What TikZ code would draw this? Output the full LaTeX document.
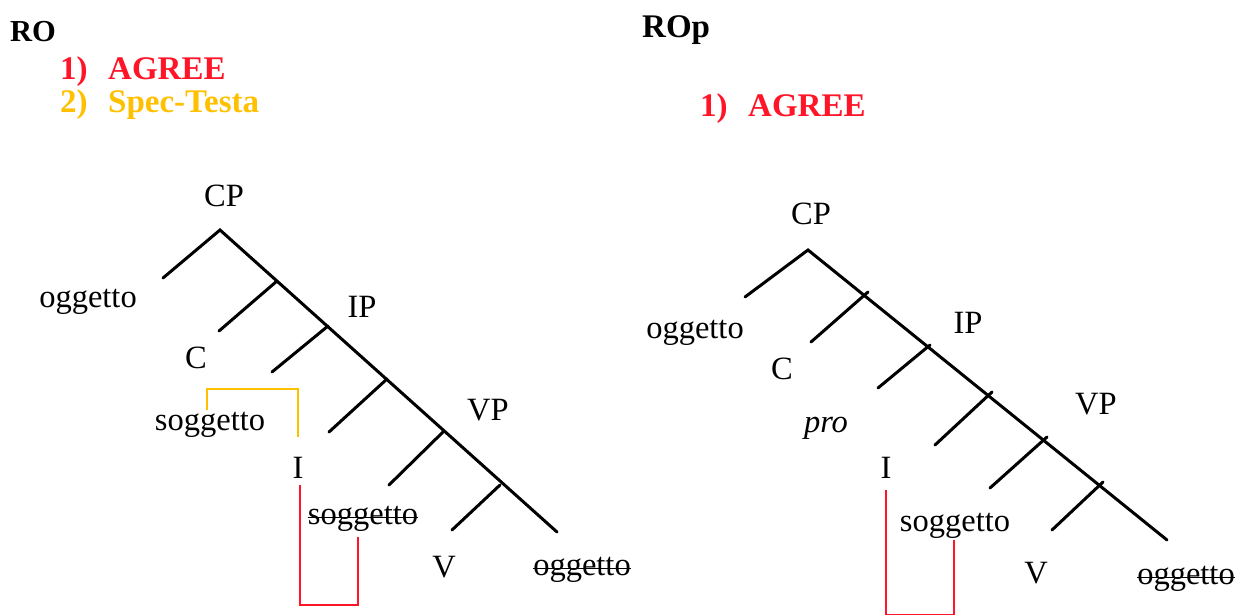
\documentclass[tikz,border=0pt]{standalone}
\usepackage{fontspec}
\setmainfont{Liberation Serif}
\definecolor{agreered}{RGB}{255,20,40}
\definecolor{specgold}{RGB}{255,192,0}
\tikzset{
  lbl/.style={inner sep=0pt, anchor=base, font=\fontsize{32.5}{38}\selectfont},
  head/.style={inner sep=0pt, anchor=base west, font=\fontsize{33}{38}\selectfont\bfseries},
  branch/.style={line width=3pt, line cap=round},
  agreeline/.style={agreered, line width=2.8pt},
  specline/.style={specgold, line width=2.8pt},
  strike/.style={line width=1.5pt}
}
\begin{document}
\begin{tikzpicture}[x=1pt,y=-1pt]
\useasboundingbox (0,0) rectangle (1250,615);

% headers
\node[head, font=\fontsize{30.5}{36}\selectfont\bfseries] (ro) at (10,42) {RO};
\node[head, text=agreered] (l1n) at (60,80) {1)};
\node[head, text=agreered] (l1t) at (108,80) {AGREE};
\node[head, text=specgold] (l2n) at (60,113) {2)};
\node[head, text=specgold] (l2t) at (108,113) {Spec-Testa};
\node[head] (rop) at (642,38) {ROp};
\node[head, text=agreered] (r1n) at (700,117) {1)};
\node[head, text=agreered] (r1t) at (748,117) {AGREE};

% left tree
\coordinate (LA) at (220,230);
\coordinate (Lb0) at (163,278);
\coordinate (Ln1) at (277,281);
\coordinate (Lb1) at (219,331);
\coordinate (Ln2) at (328,326);
\coordinate (Lb2) at (272,372);
\coordinate (Ln3) at (387,379);
\coordinate (Lb3) at (329,432);
\coordinate (Ln4) at (443,432);
\coordinate (Lb4) at (389,485);
\coordinate (Ln5) at (500,485);
\coordinate (Lb5) at (452,530);
\coordinate (LE) at (557,532);
\draw[branch] (Lb0) -- (LA) -- (LE);
\foreach \i in {1,...,5} \draw[branch] (Ln\i) -- (Lb\i);

\node[lbl] (Lcp) at (224,206) {CP};
\node[lbl] (Logg) at (88,307) {oggetto};
\node[lbl] (Lip) at (362,317) {IP};
\node[lbl] (Lc) at (196,368) {C};
\node[lbl] (Lsog) at (210,430) {soggetto};
\node[lbl] (Lvp) at (488,420) {VP};
\node[lbl] (Li) at (298,478) {I};
\node[lbl] (Lsog2) at (363,524) {soggetto};
\node[lbl] (Lv) at (444,577) {V};
\node[lbl] (Logg2) at (582,575) {oggetto};
\draw[strike] ([yshift=6.5pt]Lsog2.base west) -- ([yshift=6.5pt]Lsog2.base east);
\draw[strike] ([yshift=6.5pt]Logg2.base west) -- ([yshift=6.5pt]Logg2.base east);

% left brackets
\coordinate (Ly1) at (207,410);
\coordinate (Ly2) at (298,437);
\draw[specline] (Ly1) -- (207,389) -- (298,389) -- (Ly2);
\coordinate (Lr1) at (300,485);
\coordinate (Lr2) at (358,537);
\draw[agreeline] (Lr1) -- (300,605) -- (358,605) -- (Lr2);

% right tree
\coordinate (RA) at (808,250);
\coordinate (Rb0) at (745,297);
\coordinate (Rn1) at (868,292);
\coordinate (Rb1) at (811,342);
\coordinate (Rn2) at (930,345);
\coordinate (Rb2) at (878,388);
\coordinate (Rn3) at (992,392);
\coordinate (Rb3) at (935,445);
\coordinate (Rn4) at (1047,437);
\coordinate (Rb4) at (990,488);
\coordinate (Rn5) at (1103,482);
\coordinate (Rb5) at (1052,530);
\coordinate (RE) at (1167,540);
\draw[branch] (Rb0) -- (RA) -- (RE);
\foreach \i in {1,...,5} \draw[branch] (Rn\i) -- (Rb\i);

\node[lbl] (Rcp) at (811,224) {CP};
\node[lbl] (Rogg) at (695,338) {oggetto};
\node[lbl] (Rip) at (968,333) {IP};
\node[lbl] (Rc) at (782,379) {C};
\node[lbl] (Rpro) at (826,432) {\itshape pro};
\node[lbl] (Rvp) at (1096,414) {VP};
\node[lbl] (Ri) at (886,478) {I};
\node[lbl] (Rsog) at (955,531) {soggetto};
\node[lbl] (Rv) at (1036,583) {V};
\node[lbl] (Rogg2) at (1186,584) {oggetto};
\draw[strike] ([yshift=6.5pt]Rogg2.base west) -- ([yshift=6.5pt]Rogg2.base east);

% right bracket
\coordinate (Rr1) at (886,490);
\coordinate (Rr2) at (954,540);
\draw[agreeline] (Rr1) -- (886,615) -- (954,615) -- (Rr2);
\end{tikzpicture}
\end{document}
